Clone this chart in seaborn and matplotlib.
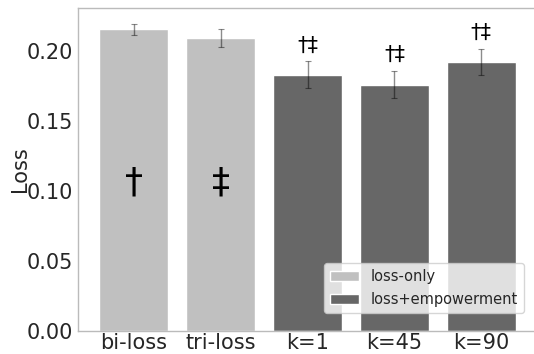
import matplotlib
matplotlib.use("Agg")
import matplotlib.pyplot as plt
import seaborn as sns
import pandas as pd

categories = ["bi-loss", "tri-loss", "k=1", "k=45", "k=90"]
values = [0.2155, 0.2095, 0.183, 0.176, 0.192]
errors = [0.004, 0.0063, 0.0095, 0.0094, 0.0091]
groups = ["loss-only", "loss-only", "loss+empowerment", "loss+empowerment", "loss+empowerment"]
inner_marks = ["†", "‡", "", "", ""]
top_marks = ["", "", "†‡", "†‡", "†‡"]

sns.set_style("white")
plt.rcParams['font.family'] = ['DejaVu Sans']

df = pd.DataFrame({"method": categories, "loss": values, "group": groups})

fig = plt.figure(figsize=(5.34, 3.54), dpi=100)
ax = fig.add_axes([78/534, 1 - 331/354, (537-78)/534, (331-8)/354])

sns.barplot(data=df, x="method", y="loss", hue="group", dodge=False,
            palette={"loss-only": "#c0c0c0", "loss+empowerment": "#676767"},
            errorbar=None, width=0.8, ax=ax, saturation=1)
ax.errorbar(range(len(categories)), values, yerr=errors, fmt="none",
            ecolor="black", alpha=0.45, elinewidth=1, capsize=2, capthick=0.8)

for i, (v, e) in enumerate(zip(values, errors)):
    if inner_marks[i]:
        ax.text(i, 0.106, inner_marks[i], ha="center", va="center", fontsize=26, color="black")
    if top_marks[i]:
        ax.text(i, v + e + 0.0115, top_marks[i], ha="center", va="center", fontsize=15, color="black")

ax.set_ylim(0, 0.2307)
ax.set_xlim(-0.64, 4.64)
ax.set_yticks([0.0, 0.05, 0.10, 0.15, 0.20])
ax.set_yticklabels(["0.00", "0.05", "0.10", "0.15", "0.20"])
ax.tick_params(axis="y", labelsize=15, length=2, color="#bbbbbb", pad=1.5)
ax.tick_params(axis="x", labelsize=15, length=1.5, color="#bbbbbb", pad=0)
ax.set_xlabel("")
ax.set_ylabel("Loss", fontsize=15, labelpad=-2.3)
for s in ax.spines.values():
    s.set_color("#bbbbbb")
    s.set_linewidth(1)

leg = ax.legend(loc="lower right", bbox_to_anchor=((524-78)/459, (331-313)/323), fontsize=10.5,
                frameon=True, handlelength=2.0, borderaxespad=0, labelspacing=0.55)
leg.set_title(None)

fig.savefig("out.png", dpi=100)
